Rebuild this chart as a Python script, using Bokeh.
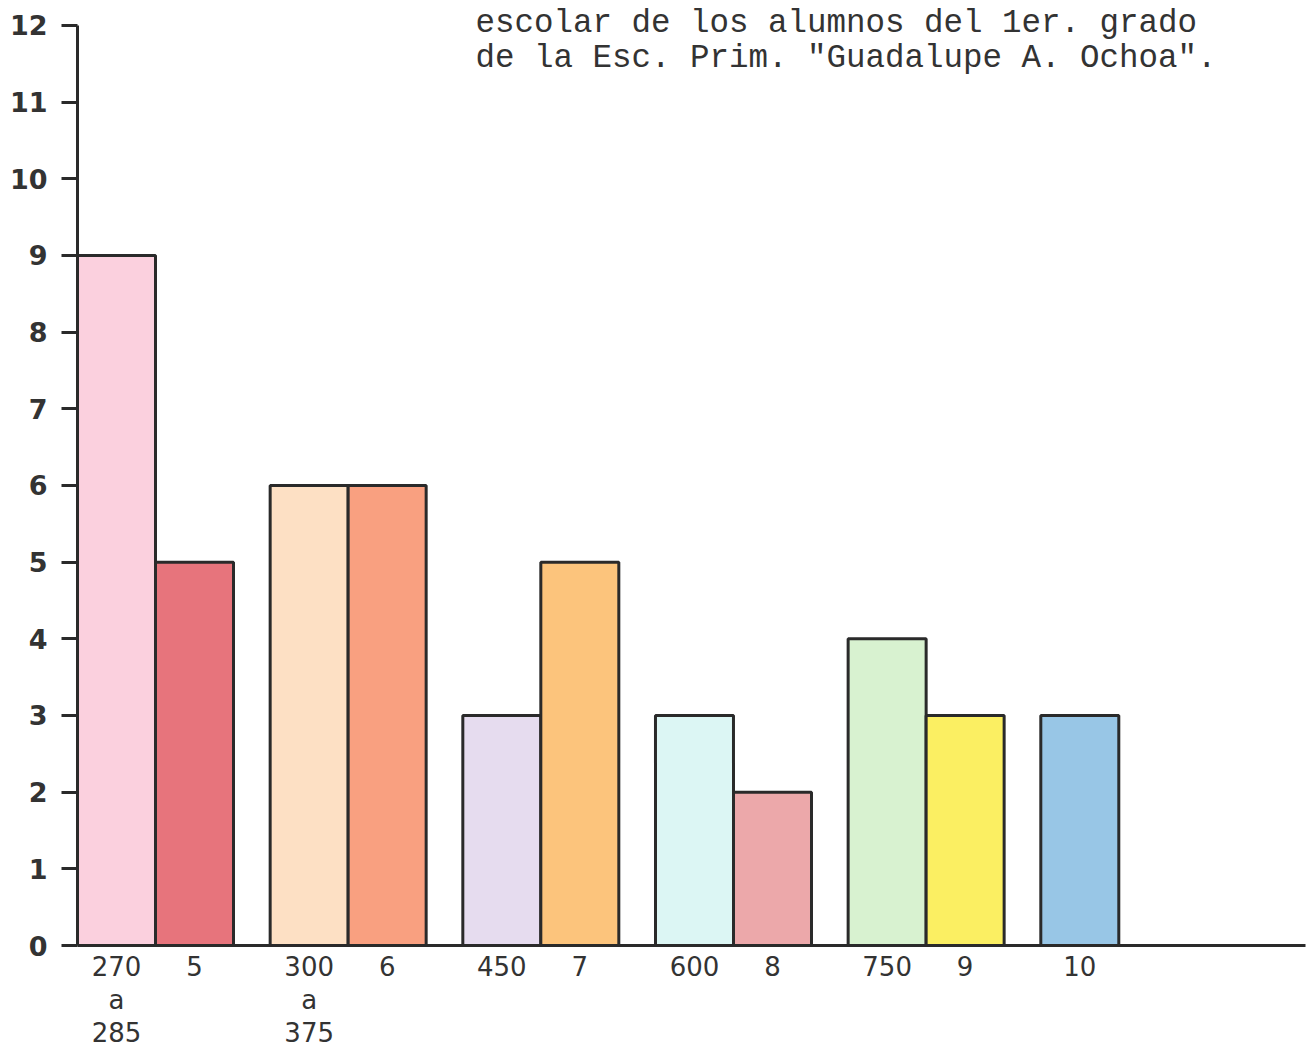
from bokeh.plotting import figure
from bokeh.models import ColumnDataSource, FixedTicker, Label, Range1d
from bokeh.embed import file_html
from bokeh.resources import INLINE

# ---- data ----
categories = ["270\na\n285", "5", "300\na\n375", "6", "450", "7", "600", "8", "750", "9", "10"]
counts = [9, 5, 6, 6, 3, 5, 3, 2, 4, 3, 3]
colors = ["#fbd0de", "#e7747c", "#fde0c4", "#f9a080", "#e6dcef", "#fcc47c",
          "#dcf6f4", "#eca8aa", "#d8f2d0", "#fbef62", "#98c6e6"]
title_lines = ["escolar de los alumnos del 1er. grado",
               "de la Esc. Prim. \"Guadalupe A. Ochoa\"."]
y_ticks = list(range(0, 13))

# ---- layout of bars: pairs separated by a gap ----
gap = 0.47
centers = []
for i in range(len(counts)):
    g, s = divmod(i, 2)
    centers.append(g * (2 + gap) + s + 0.5)

src = ColumnDataSource(dict(x=centers, top=counts, color=colors, cat=categories))

PX_X = 78.0     # px per x unit
PX_Y = 76.67    # px per y unit
FRAME_BOTTOM = 945

p = figure(width=1306, height=1050, output_backend="svg", toolbar_location=None,
           x_range=Range1d(0, (1305 - 77) / PX_X),
           y_range=Range1d(0, FRAME_BOTTOM / PX_Y),
           min_border_left=77, min_border_right=1, min_border_top=0,
           min_border_bottom=105)
p.outline_line_color = None
p.grid.grid_line_color = None
p.background_fill_color = "white"

p.vbar(x="x", top="top", width=1.0, bottom=0, source=src, fill_color="color",
       line_color="#2a2a2a", line_width=3)

# y axis
ya = p.yaxis[0]
ya.ticker = FixedTicker(ticks=y_ticks)
ya.bounds = (0, 12)
ya.axis_line_width = 3
ya.axis_line_color = "#2a2a2a"
ya.major_tick_line_width = 3
ya.major_tick_line_color = "#2a2a2a"
ya.major_tick_out = 16
ya.major_tick_in = 0
ya.minor_tick_line_color = None
ya.major_label_standoff = 14
ya.major_label_text_font = "DejaVu Sans"
ya.major_label_text_font_size = "27px"
ya.major_label_text_font_style = "bold"
ya.major_label_text_color = "#333333"

# x axis
xa = p.xaxis[0]
xa.ticker = FixedTicker(ticks=centers)
xa.major_label_overrides = {c: lab for c, lab in zip(centers, categories)}
xa.axis_line_width = 3
xa.axis_line_color = "#2a2a2a"
xa.major_tick_line_color = None
xa.major_tick_out = 0
xa.major_tick_in = 0
xa.minor_tick_line_color = None
xa.major_label_standoff = 6
xa.major_label_text_font = "DejaVu Sans"
xa.major_label_text_font_size = "26px"
xa.major_label_text_color = "#333333"
xa.major_label_text_line_height = 1.1

# title text (typewritten)
for k, line in enumerate(title_lines):
    p.add_layout(Label(x=(475 - 77) / PX_X, y=(FRAME_BOTTOM - 4 - 35 * k) / PX_Y,
                       text=line, text_font="Liberation Mono", text_font_size="32.5px",
                       text_color="#333333", text_baseline="top"))

open("out.html", "w").write(file_html(p, INLINE))
